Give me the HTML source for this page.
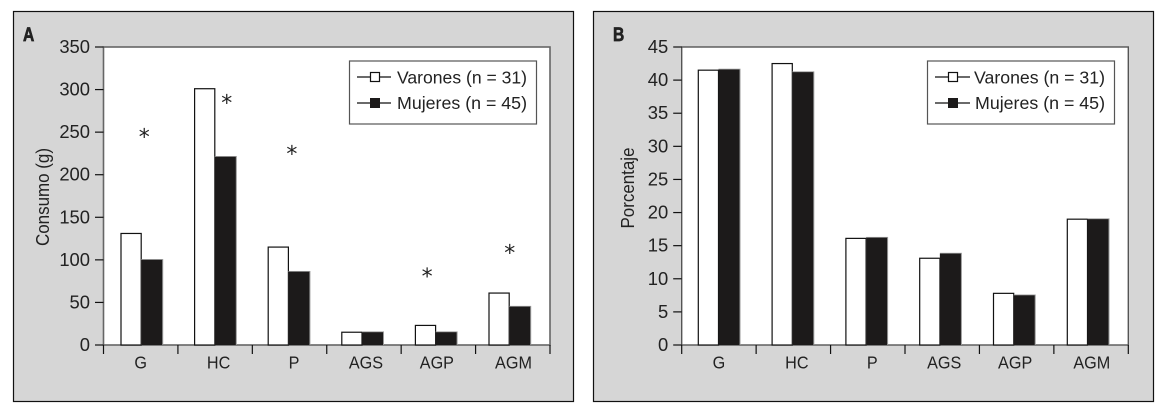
<!DOCTYPE html>
<html lang="es">
<head>
<meta charset="utf-8">
<title>Consumo y porcentaje</title>
<style>
html,body{margin:0;padding:0;background:#fff;width:1160px;height:405px;overflow:hidden}
svg{display:block}
text{font-family:"Liberation Sans",sans-serif;fill:#222}
</style>
</head>
<body>
<svg id="chart" xmlns="http://www.w3.org/2000/svg" width="1160" height="405" viewBox="0 0 1160 405">
  <g id="panel-a">
    <rect x="13.5" y="11.5" width="560" height="390" fill="#d6d6d6" stroke="#111" stroke-width="1.2"/>
    <rect x="103.5" y="47" width="446.5" height="298" fill="#fff" stroke="#666" stroke-width="1.6"/>
    <text transform="translate(23,41) scale(0.8,1)" font-size="19.5" font-weight="bold" stroke="#222" stroke-width="0.7">A</text>
    <text transform="translate(49,197) rotate(-90)" text-anchor="middle" font-size="18" textLength="98" lengthAdjust="spacingAndGlyphs">Consumo (g)</text>
  </g>
  <g id="panel-b">
    <rect x="593.5" y="11.5" width="560" height="390" fill="#d6d6d6" stroke="#111" stroke-width="1.2"/>
    <rect x="681.7" y="47" width="446.6" height="298" fill="#fff" stroke="#555" stroke-width="1.4"/>
    <text transform="translate(613,41) scale(0.8,1)" font-size="19.5" font-weight="bold" stroke="#222" stroke-width="0.7">B</text>
    <text transform="translate(634,188) rotate(-90)" text-anchor="middle" font-size="18" textLength="81" lengthAdjust="spacingAndGlyphs">Porcentaje</text>
  </g>
  <g id="legend-a">
    <rect x="349.5" y="61" width="187" height="63" fill="#fff" stroke="#555" stroke-width="1.2"/>
    <g>
      <line x1="357" y1="77" x2="391" y2="77" stroke="#111" stroke-width="1.2"/>
      <rect x="370.5" y="72.5" width="9" height="9" fill="#fff" stroke="#111" stroke-width="1.2"/>
      <text x="397" y="83.5" font-size="17.4" textLength="130" lengthAdjust="spacingAndGlyphs">Varones (n = 31)</text>
    </g>
    <g>
      <line x1="357" y1="103" x2="391" y2="103" stroke="#111" stroke-width="1.2"/>
      <rect x="370" y="98" width="10" height="10" fill="#1c1a1a"/>
      <text x="397" y="109" font-size="17.4" textLength="130" lengthAdjust="spacingAndGlyphs">Mujeres (n = 45)</text>
    </g>
  </g>
  <g id="legend-b">
    <rect x="927.5" y="61" width="187" height="63" fill="#fff" stroke="#555" stroke-width="1.2"/>
    <g>
      <line x1="935" y1="77" x2="970" y2="77" stroke="#111" stroke-width="1.2"/>
      <rect x="948.5" y="72.5" width="9" height="9" fill="#fff" stroke="#111" stroke-width="1.2"/>
      <text x="974" y="83.5" font-size="17.4" textLength="131" lengthAdjust="spacingAndGlyphs">Varones (n = 31)</text>
    </g>
    <g>
      <line x1="935" y1="103" x2="970" y2="103" stroke="#111" stroke-width="1.2"/>
      <rect x="948" y="98" width="10" height="10" fill="#1c1a1a"/>
      <text x="975" y="109" font-size="17.4" textLength="130" lengthAdjust="spacingAndGlyphs">Mujeres (n = 45)</text>
    </g>
  </g>
</svg>
<script>
const categories = ['G', 'HC', 'P', 'AGS', 'AGP', 'AGM'];
const yTicksA = [0, 50, 100, 150, 200, 250, 300, 350];
const varonesA = [131, 301, 115, 15, 23, 61];
const mujeresA = [100, 221, 86, 15, 15, 45];
const asteriskValuesA = [249, 289, 229, null, 85, 113];
const asteriskShiftA = [3, 12, 3.5, 0, -8.5, 0.5];
const yTicksB = [0, 5, 10, 15, 20, 25, 30, 35, 40, 45];
const varonesB = [41.5, 42.5, 16.1, 13.1, 7.8, 19];
const mujeresB = [41.6, 41.2, 16.2, 13.8, 7.5, 19];

const NS = 'http://www.w3.org/2000/svg';
const labelNudge = [0, 3.5, 4.5, 2, -1.5, 0.7];
function make(parent, tag, attrs, txt) {
  const el = document.createElementNS(NS, tag);
  for (const k in attrs) el.setAttribute(k, attrs[k]);
  if (txt !== undefined) el.textContent = txt;
  parent.appendChild(el);
  return el;
}

function drawPanel(id, o) {
  const root = document.getElementById(id);
  const yScale = v => o.bottom - (v / o.yMax) * (o.bottom - o.top);
  const tickX = i => o.left + (i / categories.length) * (o.right - o.left);
  const barCenter = i => o.barStart + i * o.barStep;

  o.yTicks.forEach(t => {
    const y = yScale(t);
    const tick = make(root, 'line', {x1: o.left - 8.5, y1: y, x2: o.left, y2: y, stroke: '#111', 'stroke-width': 1.2});
    
    
    const label = make(root, 'text', {x: o.left - 13.5, y: y + 6, 'text-anchor': 'end', 'font-size': 18.4}, String(t));
    
    
  });

  for (let i = 0; i <= categories.length; i++) {
    const tick = make(root, 'line', {x1: tickX(i), y1: o.bottom, x2: tickX(i), y2: o.bottom + 9, stroke: '#111', 'stroke-width': 1.2});
    
    
  }

  categories.forEach((c, i) => {
    const cx = barCenter(i);
    const white = make(root, 'rect', {x: cx - 20.2, y: yScale(o.varones[i]), width: 20.2, height: o.bottom - yScale(o.varones[i]), fill: '#fff', stroke: '#111', 'stroke-width': 1.2});
    
    
    const shade = make(root, 'rect', {x: cx, y: yScale(o.mujeres[i]) - 0.8, width: 22, height: o.bottom - yScale(o.mujeres[i]) + 0.8, fill: '#999'});
    
    
    const black = make(root, 'rect', {x: cx, y: yScale(o.mujeres[i]), width: 21, height: o.bottom - yScale(o.mujeres[i]), fill: '#1c1a1a'});
    
    
    const labelX = (tickX(i) + tickX(i + 1)) / 2 + labelNudge[i];
    const label = make(root, 'text', {transform: 'translate(' + labelX + ',368.5) scale(0.9,1)', 'text-anchor': 'middle', 'font-size': 18}, c);
    
    
    if (o.stars && o.stars[i] !== null) {
      const star = make(root, 'text', {x: cx + o.starShift[i], y: yScale(o.stars[i]) + 11.5, 'text-anchor': 'middle', 'font-size': 22, style: 'font-family:"DejaVu Sans",sans-serif'}, '*');
      
      
    }
  });
}

drawPanel('panel-a', {left: 103.5, right: 550, top: 47, bottom: 345, yMax: 350, yTicks: yTicksA,
  varones: varonesA, mujeres: mujeresA, stars: asteriskValuesA, starShift: asteriskShiftA,
  barStart: 141.2, barStep: 73.6});
drawPanel('panel-b', {left: 681.7, right: 1128.3, top: 47, bottom: 345, yMax: 45, yTicks: yTicksB,
  varones: varonesB, mujeres: mujeresB, barStart: 718.5, barStep: 73.8});
</script>
</body>
</html>
